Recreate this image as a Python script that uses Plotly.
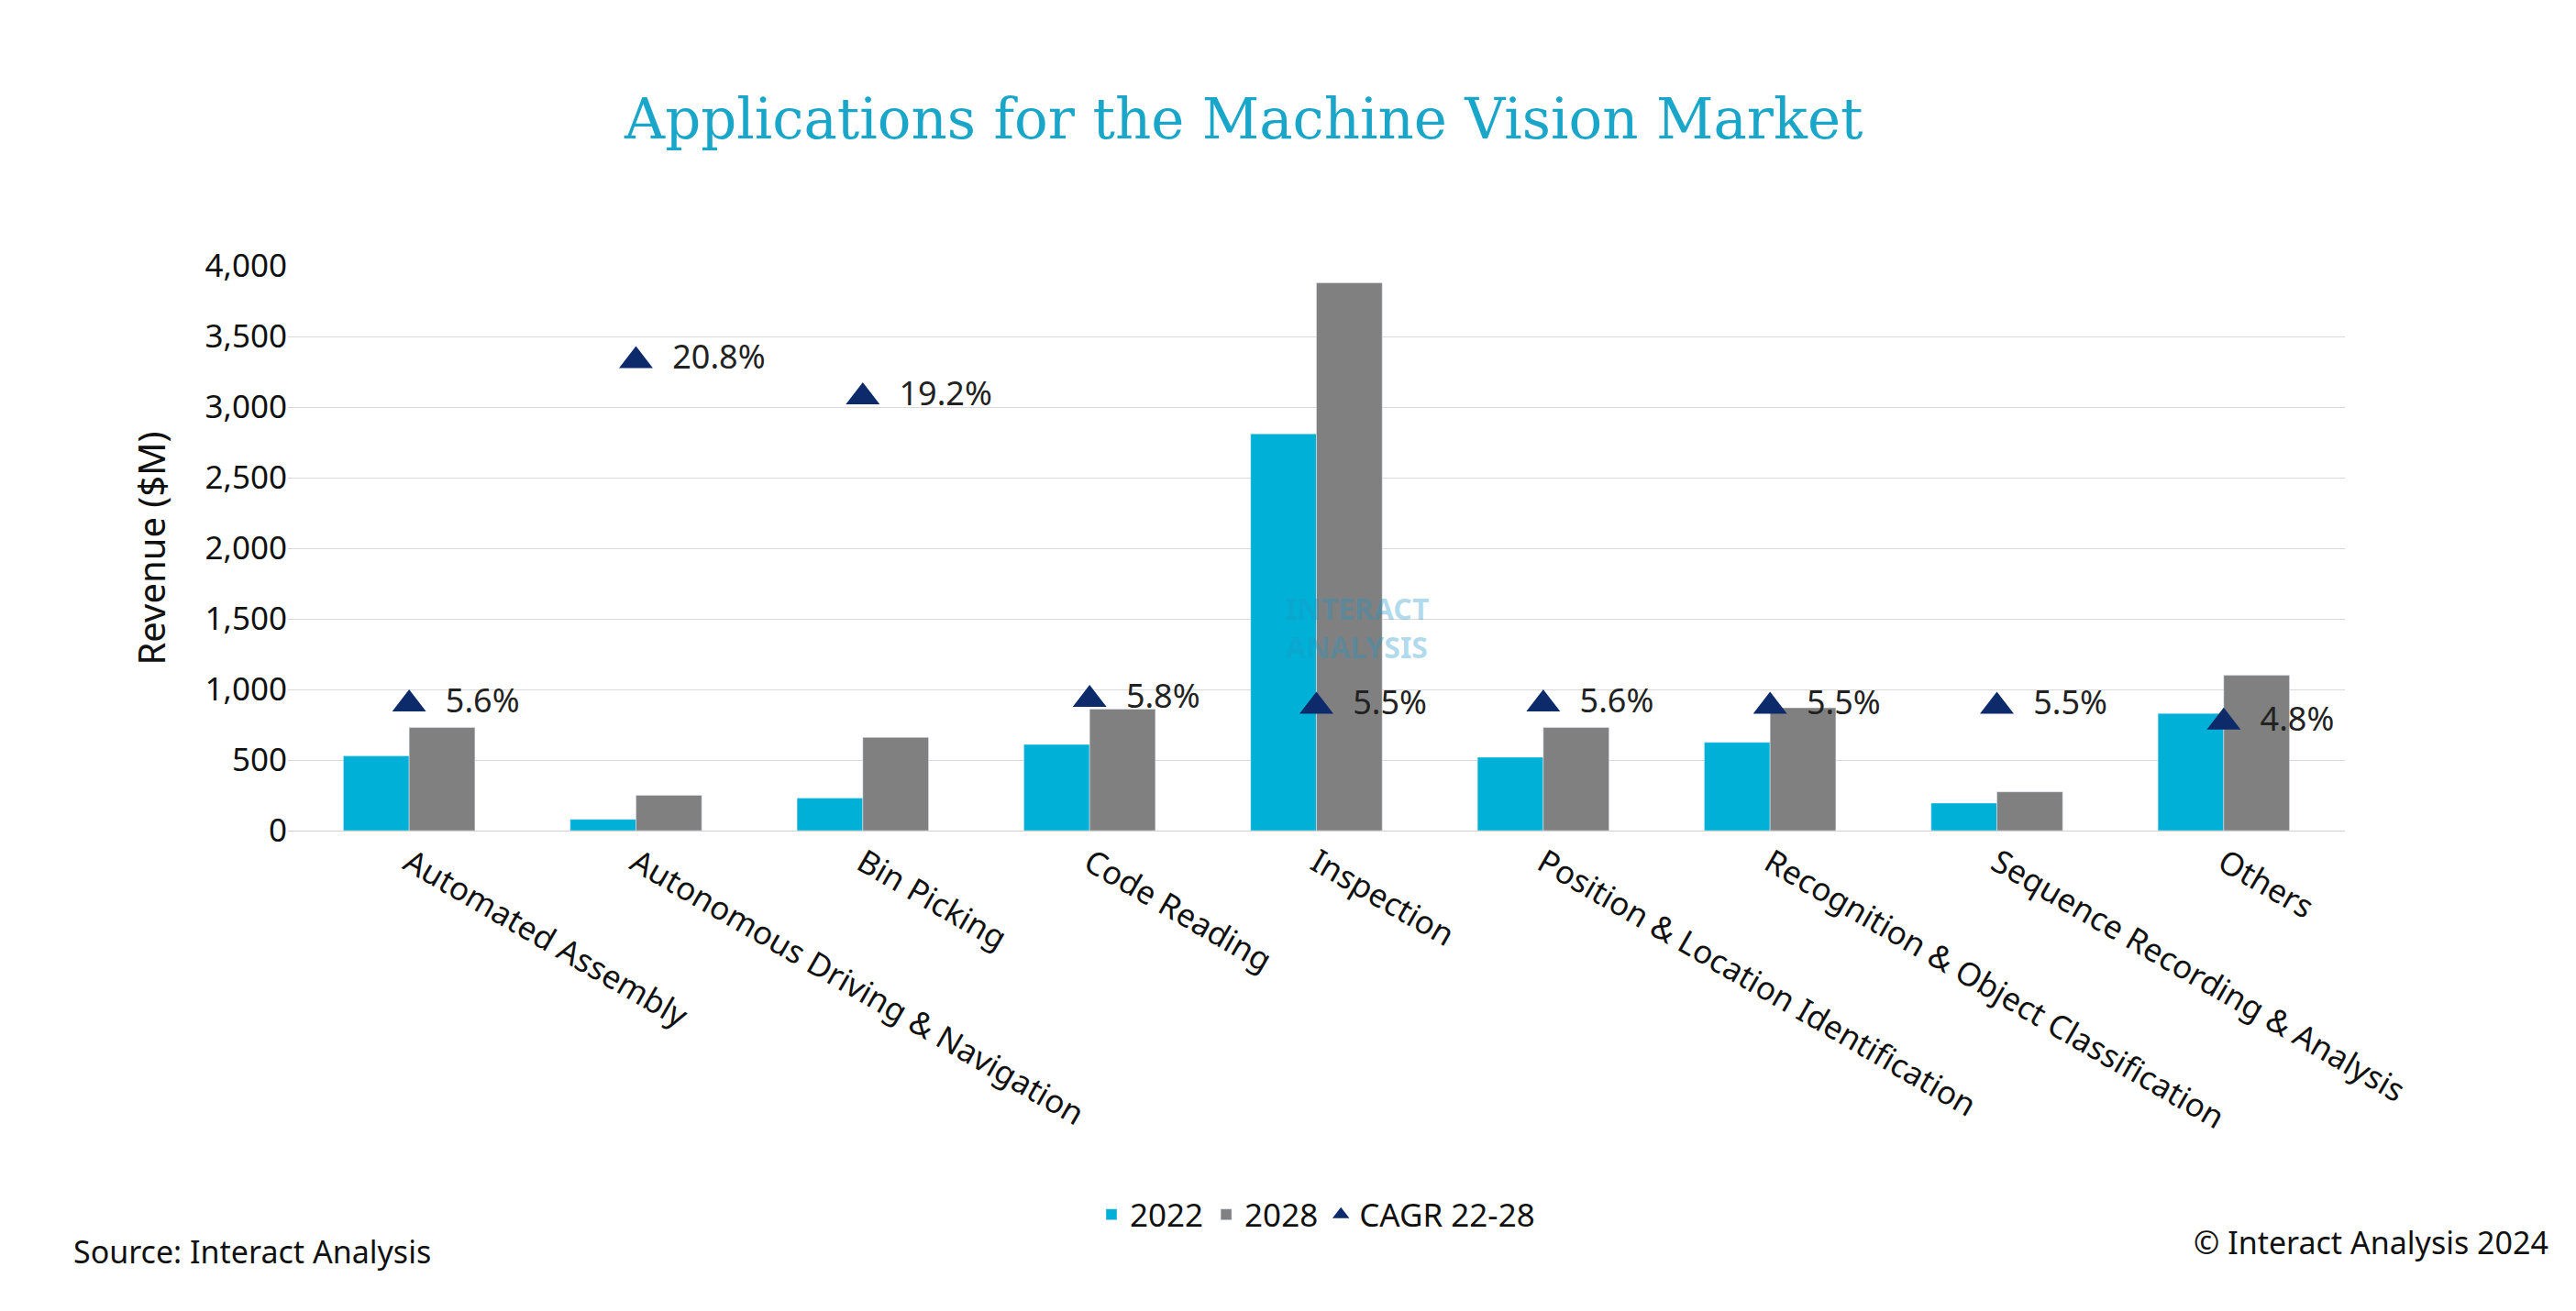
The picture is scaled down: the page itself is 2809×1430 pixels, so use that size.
import plotly.graph_objects as go

categories = ["Automated Assembly", "Autonomous Driving & Navigation", "Bin Picking",
              "Code Reading", "Inspection", "Position & Location Identification",
              "Recognition & Object Classification", "Sequence Recording & Analysis", "Others"]
rev_2022 = [530, 80, 230, 610, 2810, 520, 625, 195, 830]
rev_2028 = [730, 250, 660, 860, 3880, 730, 870, 275, 1100]
cagr = [5.6, 20.8, 19.2, 5.8, 5.5, 5.6, 5.5, 5.5, 4.8]

font = "Noto Sans"
fig = go.Figure()
fig.add_bar(x=categories, y=rev_2022, name="2022", marker_color="#00B0D6")
fig.add_bar(x=categories, y=rev_2028, name="2028", marker_color="#808080")
fig.add_scatter(x=categories, y=cagr, name="CAGR 22-28", yaxis="y2", mode="markers+text",
                marker=dict(symbol="triangle-up", size=32, color="#0D2A6B"),
                text=[f"  {v}%" for v in cagr], textposition="middle right",
                textfont=dict(size=36, color="#222", family=font))

fig.update_layout(
    width=2809, height=1430, plot_bgcolor="white", paper_bgcolor="white",
    margin=dict(l=306, r=260, t=282, b=532),
    title=dict(text="Applications for the Machine Vision Market", x=0.48, y=0.93,
               xanchor="center", font=dict(family="DejaVu Serif", size=61, color="#1AA6C9")),
    barmode="group", bargap=0.42, bargroupgap=0,
    font=dict(family=font, size=35, color="#111"),
    xaxis=dict(tickangle=30, showline=True, linecolor="#d0d0d0", ticks=""),
    yaxis=dict(range=[0, 4000], dtick=500, tickformat=",", gridcolor="#d9d9d9",
               title=dict(text="Revenue ($M)", font=dict(size=40), standoff=30), zeroline=False),
    yaxis2=dict(range=[0, 25], overlaying="y", visible=False),
    legend=dict(orientation="h", x=0.5, xanchor="center", y=-0.68, yanchor="middle",
                font=dict(size=35)),
)
fig.add_annotation(text="<b>INTERACT<br>ANALYSIS</b>", x=0.52, y=0.36, xref="paper", yref="paper",
                   showarrow=False, align="left", font=dict(size=32, color="rgba(30,150,200,0.35)"))
fig.add_annotation(text="Source: Interact Analysis", x=-0.105, y=-0.785, xref="paper", yref="paper",
                   xanchor="left", showarrow=False, font=dict(size=34))
fig.add_annotation(text="© Interact Analysis 2024", x=1.1, y=-0.77, xref="paper", yref="paper",
                   xanchor="right", showarrow=False, font=dict(size=34))
fig.write_html("out.html")
